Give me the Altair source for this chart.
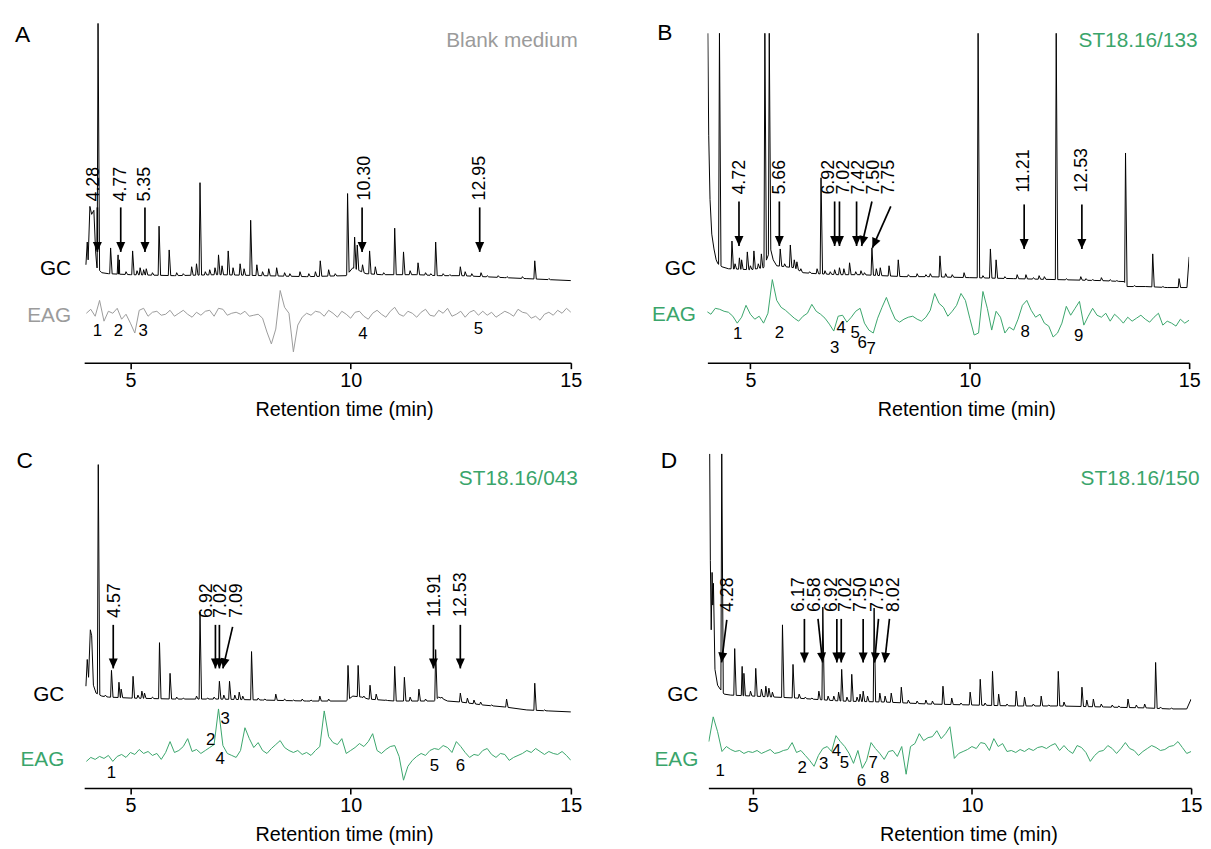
import numpy as np
import pandas as pd
import altair as alt

FONT = "Liberation Sans"
GREEN = "#3aa56b"
GRAY = "#9b9b9b"

# ------------------------------------------------------------------
# Data: retention time (min) vs signal (a.u.)
# GC traces: baseline knots + peak apexes; EAG: samples every 0.1 min from 4.0
# ------------------------------------------------------------------

# ---------- Panel A : Blank medium ----------
A_GC_BASE = [(3.99, 99), (4.02, 122), (4.04, 104), (4.08, 158), (4.12, 150), (4.17, 154),
             (4.21, 112), (4.24, 96), (4.35, 91), (4.5, 90), (5.0, 89), (6.0, 88), (7.0, 89),
             (8.0, 88), (9.0, 87), (9.9, 88), (10.05, 96), (10.2, 93), (10.35, 90), (10.7, 89),
             (11.5, 89), (12.0, 88), (12.5, 88), (13.0, 87), (13.5, 86), (14.0, 85), (14.5, 84),
             (15.0, 83)]
A_GC_PEAKS = [(4.265, 343), (4.55, 116), (4.72, 109), (4.75, 104), (4.9, 92), (5.05, 113),
              (5.15, 93), (5.22, 96), (5.3, 94), (5.36, 95), (5.5, 91), (5.65, 138), (5.88, 114),
              (6.05, 91), (6.2, 90), (6.39, 97), (6.5, 100), (6.58, 182), (6.7, 92), (6.8, 94),
              (6.92, 96), (7.0, 109), (7.08, 98), (7.22, 113), (7.33, 96), (7.49, 100), (7.58, 95),
              (7.73, 144), (7.87, 99), (8.0, 92), (8.14, 95), (8.32, 96), (8.5, 91), (8.62, 90),
              (8.85, 92), (9.05, 90), (9.2, 92), (9.31, 103), (9.5, 94), (9.65, 90), (9.93, 171),
              (10.09, 127), (10.15, 119), (10.27, 99), (10.43, 113), (10.56, 97), (10.75, 91),
              (11.0, 136), (11.2, 112), (11.35, 93), (11.53, 101), (11.7, 91), (11.82, 90),
              (11.93, 122), (12.1, 90), (12.25, 89), (12.49, 97), (12.6, 92), (12.75, 90),
              (12.96, 91), (13.1, 88), (13.35, 88), (13.55, 87), (13.9, 87), (14.18, 103), (14.5, 85)]
A_EAG = [50, 54, 47, 63, 42, 52, 50, 55, 44, 49,
         40, 30, 53, 55, 47, 51, 52, 48, 49, 53,
         47, 50, 53, 49, 46, 51, 48, 52, 53, 47,
         55, 54, 48, 50, 51, 49, 52, 47, 48, 49,
         45, 31, 19, 34, 73, 56, 50, 11, 38, 46,
         50, 48, 52, 51, 47, 53, 50, 46, 52, 49,
         45, 51, 52, 47, 44, 50, 53, 49, 46, 52,
         56, 49, 47, 52, 50, 46, 51, 54, 48, 47,
         53, 50, 55, 47, 49, 52, 46, 51, 53, 48,
         52, 48, 51, 46, 49, 52, 50, 47, 54, 51,
         50, 45, 47, 43, 49, 51, 48, 53, 50, 55,
         51]
# (label, label time, label bottom, arrow top time, arrow top, arrow tip time, arrow tip)
A_ARROWS = [("4.28", 4.18, 163, 4.25, 157, 4.25, 112),
            ("4.77", 4.78, 163, 4.78, 157, 4.78, 112),
            ("5.35", 5.34, 163, 5.33, 157, 5.33, 112),
            ("10.30", 10.32, 164, 10.26, 157, 10.26, 112),
            ("12.95", 12.94, 164, 12.93, 157, 12.93, 112)]
A_NUMS = [("1", 4.25, 32), ("2", 4.73, 32), ("3", 5.29, 32), ("4", 10.28, 29), ("5", 12.9, 34)]

# ---------- Panel B : ST18.16/133 ----------
B_GC_BASE = [(4.03, 333), (4.05, 230), (4.08, 165), (4.12, 130), (4.17, 115), (4.22, 104),
             (4.26, 100), (4.35, 97), (4.5, 95), (5.0, 94), (5.3, 96), (5.46, 115), (5.52, 104),
             (5.6, 98), (6.0, 96), (6.2, 91), (6.5, 90), (7.0, 89), (7.5, 89), (8.0, 88),
             (8.5, 87), (9.0, 87), (10.0, 86), (11.0, 85), (12.0, 84), (13.0, 83), (13.52, 82),
             (13.58, 77), (14.0, 77), (14.5, 76), (14.95, 76), (15.0, 107)]
B_GC_PEAKS = [(4.295, 333), (4.58, 123), (4.65, 100), (4.75, 106), (4.8, 104), (4.93, 112),
              (5.0, 98), (5.08, 113), (5.18, 100), (5.25, 110), (5.33, 333), (5.43, 333),
              (5.68, 115), (5.78, 100), (5.91, 119), (6.0, 104), (6.06, 102), (6.15, 95),
              (6.35, 92), (6.52, 95), (6.61, 187), (6.7, 93), (6.82, 92), (6.92, 94), (7.03, 96),
              (7.13, 95), (7.26, 101), (7.4, 92), (7.52, 93), (7.6, 91), (7.77, 116), (7.87, 95),
              (7.96, 96), (8.16, 98), (8.37, 104), (8.6, 89), (8.8, 90), (9.0, 89), (9.1, 90),
              (9.32, 108), (9.45, 90), (9.6, 89), (9.87, 91), (10.19, 333), (10.3, 88),
              (10.47, 115), (10.6, 104), (10.8, 87), (11.08, 89), (11.28, 89), (11.45, 86),
              (11.58, 88), (11.7, 87), (11.97, 333), (12.2, 85), (12.53, 87), (12.65, 85),
              (12.8, 84), (13.0, 86), (13.2, 84), (13.35, 83), (13.55, 212), (13.75, 78),
              (14.17, 110), (14.4, 77), (14.77, 85)]
B_EAG = [52, 49, 55, 54, 52, 51, 47, 40, 46, 58,
         49, 44, 47, 40, 50, 84, 63, 56, 53, 49,
         45, 42, 47, 50, 59, 52, 49, 45, 39, 32,
         47, 48, 41, 46, 52, 55, 40, 33, 30, 45,
         56, 66, 54, 44, 41, 44, 46, 47, 44, 42,
         46, 53, 70, 60, 56, 47, 52, 58, 70, 63,
         45, 28, 30, 72, 55, 33, 52, 46, 30, 36,
         33, 44, 58, 63, 53, 46, 49, 40, 37, 26,
         30, 40, 57, 48, 55, 62, 38, 47, 55, 48,
         46, 50, 42, 49, 45, 40, 46, 42, 45, 48,
         44, 41, 46, 50, 38, 42, 40, 37, 44, 40,
         43]
B_ARROWS = [("4.72", 4.775, 170, 4.74, 163, 4.74, 118),
            ("5.66", 5.68, 170, 5.66, 163, 5.66, 118),
            ("6.92", 6.80, 170, 6.92, 163, 6.92, 118),
            ("7.02", 7.14, 170, 7.03, 163, 7.03, 118),
            ("7.42", 7.48, 170, 7.42, 163, 7.42, 118),
            ("7.50", 7.82, 170, 7.77, 163, 7.535, 118),
            ("7.75", 8.16, 170, 8.20, 158, 7.78, 116),
            ("11.21", 11.24, 172, 11.24, 160, 11.24, 115),
            ("12.53", 12.555, 172, 12.555, 160, 12.555, 115)]
B_NUMS = [("1", 4.71, 29), ("2", 5.66, 30), ("3", 6.92, 15), ("4", 7.07, 35), ("5", 7.39, 30),
          ("6", 7.55, 20), ("7", 7.75, 14), ("8", 11.26, 31), ("9", 12.48, 27)]

# ---------- Panel C : ST18.16/043 ----------
C_GC_BASE = [(3.99, 103), (4.02, 130), (4.05, 112), (4.09, 160), (4.12, 154), (4.16, 104),
             (4.22, 96), (4.35, 93), (4.5, 92), (5.0, 91), (6.0, 90), (7.0, 90), (8.0, 89),
             (9.0, 88), (9.9, 88), (10.05, 93), (10.25, 92), (10.4, 90), (11.0, 88), (11.9, 88),
             (12.0, 92), (12.2, 88), (12.5, 87), (13.0, 84), (13.5, 82), (14.0, 79), (14.5, 78),
             (15.0, 77)]
C_GC_PEAKS = [(4.27, 327), (4.43, 94), (4.57, 119), (4.74, 107), (4.79, 100), (5.06, 113),
              (5.17, 94), (5.26, 98), (5.32, 96), (5.5, 92), (5.66, 147), (5.9, 116), (6.05, 92),
              (6.2, 91), (6.5, 93), (6.58, 178), (6.75, 91), (6.9, 92), (7.02, 108), (7.12, 94),
              (7.25, 108), (7.37, 94), (7.47, 97), (7.55, 93), (7.75, 138), (7.9, 91), (8.05, 90),
              (8.3, 95), (8.5, 90), (8.7, 89), (8.9, 90), (9.1, 89), (9.3, 93), (9.5, 90),
              (9.94, 124), (10.17, 124), (10.3, 93), (10.44, 104), (10.58, 95), (10.8, 89),
              (11.0, 123), (11.22, 112), (11.35, 92), (11.55, 100), (11.7, 90), (11.93, 140),
              (12.07, 92), (12.49, 96), (12.65, 91), (12.8, 89), (12.95, 87), (13.2, 84),
              (13.54, 90), (14.18, 106), (14.4, 79)]
C_EAG = [27, 31, 29, 32, 30, 33, 27, 32, 34, 31,
         36, 34, 39, 35, 37, 33, 35, 29, 36, 47,
         36, 38, 42, 50, 37, 39, 35, 38, 41, 44,
         80, 43, 35, 33, 31, 38, 61, 50, 41, 46,
         38, 35, 40, 44, 48, 41, 38, 36, 38, 34,
         36, 33, 38, 42, 78, 52, 46, 44, 50, 35,
         38, 41, 45, 42, 47, 55, 38, 35, 39, 42,
         43, 32, 8, 22, 28, 32, 35, 33, 38, 40,
         39, 43, 41, 36, 47, 42, 36, 31, 34, 33,
         38, 40, 34, 31, 35, 34, 28, 31, 33, 35,
         38, 36, 40, 37, 34, 37, 35, 34, 37, 33,
         28]
C_ARROWS = [("4.57", 4.65, 172, 4.61, 165, 4.61, 121),
            ("6.92", 6.74, 172, 6.93, 165, 6.93, 121),
            ("7.02", 7.06, 172, 7.02, 165, 7.02, 121),
            ("7.09", 7.41, 172, 7.32, 163, 7.10, 121),
            ("11.91", 11.91, 173, 11.88, 165, 11.88, 121),
            ("12.53", 12.51, 173, 12.49, 165, 12.49, 121)]
C_NUMS = [("1", 4.57, 15), ("2", 6.82, 49), ("3", 7.15, 70), ("4", 7.04, 29), ("5", 11.9, 22),
          ("6", 12.49, 22)]

# ---------- Panel D : ST18.16/150 ----------
D_GC_BASE = [(4.02, 338), (4.035, 230), (4.055, 160), (4.075, 218), (4.09, 185), (4.105, 207),
             (4.14, 120), (4.2, 104), (4.26, 100), (4.35, 95), (4.5, 94), (5.0, 93), (5.5, 92),
             (6.0, 91), (7.0, 88), (8.0, 87), (9.0, 85), (10.0, 84), (11.0, 83), (12.0, 83),
             (13.0, 82), (14.0, 81), (14.5, 80), (14.9, 80), (15.0, 90)]
D_GC_PEAKS = [(4.295, 338), (4.59, 141), (4.76, 123), (4.8, 116), (4.95, 98), (5.07, 121),
              (5.2, 100), (5.3, 103), (5.37, 101), (5.45, 97), (5.68, 165), (5.92, 125),
              (6.06, 95), (6.2, 92), (6.35, 91), (6.51, 98), (6.6, 183), (6.72, 93), (6.85, 93),
              (6.96, 97), (7.03, 120), (7.15, 92), (7.26, 115), (7.38, 92), (7.45, 95), (7.52, 98),
              (7.62, 93), (7.77, 182), (7.9, 96), (8.02, 93), (8.16, 96), (8.39, 102), (8.55, 89),
              (8.75, 88), (8.95, 89), (9.1, 88), (9.34, 103), (9.54, 91), (9.75, 86), (9.96, 97),
              (10.19, 110), (10.3, 86), (10.47, 118), (10.61, 95), (10.8, 85), (11.01, 98),
              (11.2, 92), (11.4, 85), (11.58, 93), (11.75, 84), (11.97, 118), (12.1, 87),
              (12.51, 102), (12.62, 89), (12.77, 90), (12.95, 85), (13.2, 84), (13.35, 83),
              (13.56, 90), (13.75, 84), (13.94, 85), (14.19, 127), (14.3, 82), (14.55, 81)]
D_EAG = [47, 72, 57, 37, 42, 39, 37, 38, 35, 37,
         36, 38, 35, 37, 39, 35, 36, 38, 39, 46,
         36, 38, 33, 28, 22, 33, 40, 42, 37, 53,
         47, 42, 35, 25, 38, 20, 28, 46, 40, 35,
         29, 37, 38, 32, 42, 14, 42, 45, 55, 48,
         51, 52, 58, 50, 55, 62, 30, 35, 37, 39,
         42, 40, 46, 45, 38, 50, 42, 45, 37, 38,
         36, 39, 37, 40, 38, 41, 42, 40, 43, 45,
         38, 43, 38, 35, 43, 41, 36, 27, 33, 37,
         38, 43, 40, 35, 40, 46, 40, 38, 33, 37,
         40, 43, 41, 38, 39, 42, 43, 47, 41, 35,
         37]
D_ARROWS = [("4.28", 4.44, 178, 4.41, 170, 4.29, 127),
            ("6.17", 6.05, 178, 6.18, 171, 6.18, 127),
            ("6.58", 6.43, 178, 6.49, 171, 6.595, 127),
            ("6.92", 6.80, 178, 6.92, 171, 6.92, 127),
            ("7.02", 7.14, 178, 7.02, 171, 7.02, 127),
            ("7.50", 7.48, 178, 7.52, 171, 7.52, 127),
            ("7.75", 7.86, 178, 7.87, 171, 7.78, 127),
            ("8.02", 8.22, 178, 8.12, 171, 8.01, 127)]
D_NUMS = [("1", 4.26, 17), ("2", 6.13, 20), ("3", 6.62, 24), ("4", 6.91, 37), ("5", 7.09, 25),
          ("6", 7.48, 7), ("7", 7.75, 25), ("8", 8.01, 10)]

TITLES = ["Blank medium", "ST18.16/133", "ST18.16/043", "ST18.16/150"]
LETTERS = ["A", "B", "C", "D"]

ARROW_PATH = "M -0.5 -1.1 L 0.5 -1.1 L 0 0 Z"


def gc_frame(base, peaks):
    kt = np.array([b[0] for b in base], float)
    kh = np.array([b[1] for b in base], float)
    wl, wr = 0.02, 0.035
    rows = []
    for t, h in zip(kt, kh):
        if any((p - wl) < t < (p + wr) for p, _ in peaks):
            continue
        rows.append((float(t), float(h)))
    for p, h in peaks:
        rows.append((p - wl, float(np.interp(p - wl, kt, kh))))
        rows.append((p, float(h)))
        rows.append((p + wr, float(np.interp(p + wr, kt, kh))))
    rows.sort(key=lambda r: r[0])
    df = pd.DataFrame(rows, columns=["t", "h"])
    df["o"] = np.arange(len(df))
    return df


def make_panel(cfg):
    xdom, width, height = cfg["xdom"], cfg["width"], cfg["height"]
    ppm = width / (xdom[1] - xdom[0])
    xs = alt.Scale(domain=list(xdom), nice=False, zero=False)
    ys = alt.Scale(domain=[0, height], nice=False, zero=False)
    xaxis = alt.Axis(values=[5, 10, 15], title="Retention time (min)", grid=False,
                     domainColor="black", domainWidth=1.6, tickColor="black", tickWidth=1.6,
                     tickSize=6, labelFont=FONT, labelFontSize=20, labelColor="black",
                     labelPadding=2, labelFlush=False, titleFont=FONT, titleFontSize=20,
                     titleFontWeight="normal", titleColor="black", titlePadding=9,
                     titleX=(cfg["title_t"] - xdom[0]) * ppm, titleAlign="center")
    X = alt.X("t:Q", scale=xs, axis=xaxis)
    Y = alt.Y("h:Q", scale=ys, axis=None)
    ecol = cfg["ecol"]

    gc = gc_frame(cfg["gc_base"], cfg["gc_peaks"])
    ev = cfg["eag"]
    eag = pd.DataFrame({"t": 4.0 + 0.1 * np.arange(len(ev)), "h": ev})

    arr = pd.DataFrame(cfg["arrows"], columns=["lab", "tl", "hl", "tt", "ht", "tp", "hp"])
    shaft = pd.DataFrame({"t": arr.tt, "h": arr.ht, "t2": arr.tp, "h2": arr.hp})
    dx = (arr.tp - arr.tt) * ppm
    dy = (arr.ht - arr.hp)
    head = pd.DataFrame({"t": arr.tp, "h": arr.hp,
                         "ang": np.degrees(np.arctan2(-dx, dy)) % 360})
    labs = pd.DataFrame({"t": arr.tl, "h": arr.hl, "txt": arr.lab})
    nums = pd.DataFrame(cfg["nums"], columns=["txt", "t", "h"])

    side = pd.DataFrame({"t": [cfg["gc_lab"][0], cfg["eag_lab"][0], cfg["title_pos"][0]],
                         "h": [cfg["gc_lab"][1], cfg["eag_lab"][1], cfg["title_pos"][1]],
                         "txt": ["GC", "EAG", cfg["title"]],
                         "c": ["black", ecol, ecol],
                         "fs": [21, 21, 21]})
    letter = pd.DataFrame({"t": [cfg["letter_pos"][0]], "h": [cfg["letter_pos"][1]],
                           "txt": [cfg["letter"]]})

    l_gc = alt.Chart(gc).mark_line(color="black", strokeWidth=1, clip=True).encode(
        x=X, y=Y, order="o:Q")
    l_eag = alt.Chart(eag).mark_line(color=ecol, strokeWidth=1, clip=True).encode(x=X, y=Y)
    l_shaft = alt.Chart(shaft).mark_rule(color="black", strokeWidth=1.7).encode(
        x=X, y=Y, x2="t2:Q", y2="h2:Q")
    l_head = alt.Chart(head).mark_point(shape=ARROW_PATH, filled=True, size=330, color="black",
                                        opacity=1, strokeWidth=0).encode(
        x=X, y=Y, angle=alt.Angle("ang:Q", scale=None))
    l_lab = alt.Chart(labs).mark_text(angle=270, align="left", baseline="middle", font=FONT,
                                      fontSize=18, color="black").encode(x=X, y=Y, text="txt:N")
    l_num = alt.Chart(nums).mark_text(align="center", baseline="middle", font=FONT,
                                      fontSize=17, color="black").encode(x=X, y=Y, text="txt:N")
    l_side = alt.Chart(side).mark_text(align="right", baseline="middle", font=FONT).encode(
        x=X, y=Y, text="txt:N", color=alt.Color("c:N", scale=None),
        size=alt.Size("fs:Q", scale=None))
    l_letter = alt.Chart(letter).mark_text(align="center", baseline="middle", font=FONT,
                                           fontSize=23, color="black").encode(
        x=X, y=Y, text="txt:N")
    return alt.layer(l_gc, l_eag, l_shaft, l_head, l_lab, l_num, l_side, l_letter).properties(
        width=width, height=height)


cfgA = dict(xdom=(3.95, 15.0), width=492, height=349, ecol=GRAY, gc_base=A_GC_BASE,
            gc_peaks=A_GC_PEAKS, eag=A_EAG, arrows=A_ARROWS, nums=A_NUMS,
            gc_lab=(3.652, 95), eag_lab=(3.652, 47), title=TITLES[0], title_pos=(15.157, 325),
            letter=LETTERS[0], letter_pos=(2.55, 331), title_t=9.85)
cfgB = dict(xdom=(4.02, 15.0), width=487, height=349, ecol=GREEN, gc_base=B_GC_BASE,
            gc_peaks=B_GC_PEAKS, eag=B_EAG, arrows=B_ARROWS, nums=B_NUMS,
            gc_lab=(3.76, 95), eag_lab=(3.76, 48), title=TITLES[1], title_pos=(15.19, 325),
            letter=LETTERS[1], letter_pos=(3.05, 333), title_t=9.92)
cfgC = dict(xdom=(3.95, 15.0), width=492, height=338, ecol=GREEN, gc_base=C_GC_BASE,
            gc_peaks=C_GC_PEAKS, eag=C_EAG, arrows=C_ARROWS, nums=C_NUMS,
            gc_lab=(3.50, 94), eag_lab=(3.50, 28), title=TITLES[2], title_pos=(15.157, 312),
            letter=LETTERS[2], letter_pos=(2.60, 331), title_t=9.85)
cfgD = dict(xdom=(3.99, 15.0), width=488, height=338, ecol=GREEN, gc_base=D_GC_BASE,
            gc_peaks=D_GC_PEAKS, eag=D_EAG, arrows=D_ARROWS, nums=D_NUMS,
            gc_lab=(3.76, 94), eag_lab=(3.76, 28), title=TITLES[3], title_pos=(15.19, 312),
            letter=LETTERS[3], letter_pos=(3.09, 331), title_t=9.92)

row1 = alt.hconcat(make_panel(cfgA), make_panel(cfgB), spacing=70)
row2 = alt.hconcat(make_panel(cfgC), make_panel(cfgD), spacing=72)
chart = alt.vconcat(row1, row2, spacing=30).properties(
    padding={"left": 6, "top": 5, "right": 0, "bottom": 0}
).configure_view(stroke=None)

chart.save("out.html", embed_options={"renderer": "svg", "actions": False})
